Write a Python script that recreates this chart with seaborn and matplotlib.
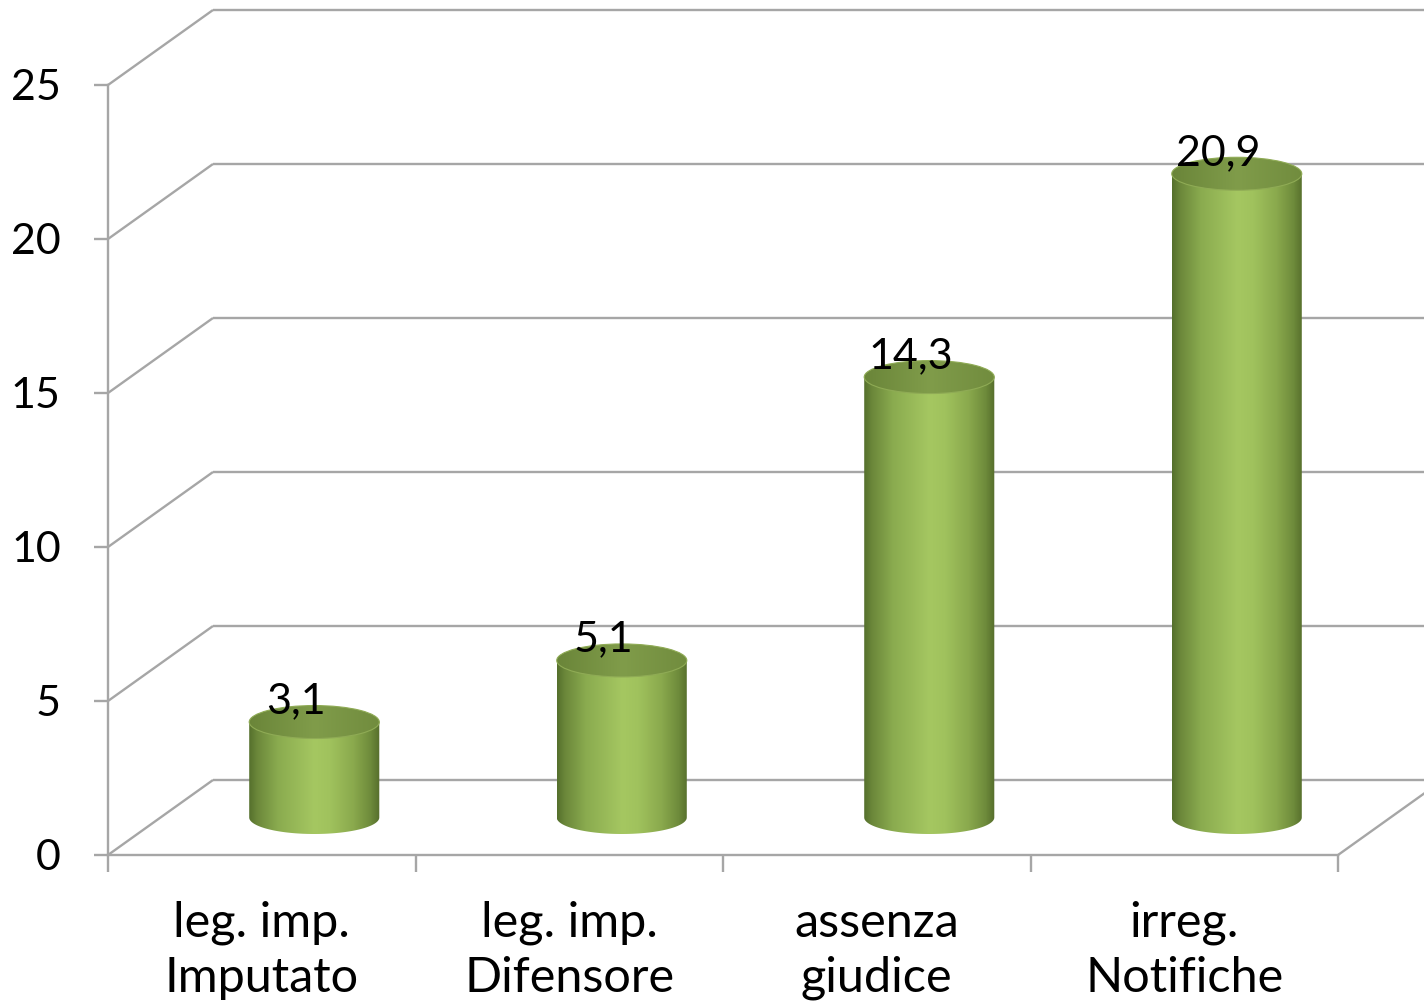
import numpy as np
import pandas as pd
import matplotlib
matplotlib.use("Agg")
import matplotlib.pyplot as plt
from matplotlib.path import Path
from matplotlib.patches import PathPatch, Ellipse
from matplotlib.colors import LinearSegmentedColormap
import seaborn as sns

# ---- data -------------------------------------------------------------
categories = ["leg. imp.\nImputato", "leg. imp.\nDifensore",
              "assenza\ngiudice", "irreg.\nNotifiche"]
values = [3.1, 5.1, 14.3, 20.9]
value_labels = ["3,1", "5,1", "14,3", "20,9"]
y_ticks = [0, 5, 10, 15, 20, 25]

# ---- style ------------------------------------------------------------
sns.set_theme(style="white")
plt.rcParams["font.family"] = ["Lato", "DejaVu Sans"]

GRID = "#a6a6a6"
LW = 1.7
W, H, DPI = 1424, 1001, 100

fig = plt.figure(figsize=(W / DPI, H / DPI), dpi=DPI)
fig.patch.set_facecolor("white")
ax = fig.add_axes([108 / W, (H - 855) / H, (1338 - 108) / W, (855 - 85) / H])

df = pd.DataFrame({"categoria": categories, "valore": values})
sns.barplot(data=df, x="categoria", y="valore", width=0.423,
            color="#9bbb59", saturation=1, ax=ax, zorder=3)
ax.set_xlim(-0.5, 3.5)
ax.set_ylim(0, 25)
ax.set_xlabel("")
ax.set_ylabel("")

# pixel -> data unit conversion for the pseudo-3D depth
bbox = ax.get_window_extent()
ux = bbox.width / 4.0      # pixels per category
uy = bbox.height / 25.0    # pixels per value unit
back_dx, back_dy = 105 / ux, 75 / uy
mid_dx, mid_dy = 52.5 / ux, 37.5 / uy
eh = 16.5 / uy             # half-height of cylinder ellipses

# ---- back wall and side wall gridlines --------------------------------
for v in y_ticks:
    ax.plot([-0.5, -0.5 + back_dx], [v, v + back_dy], color=GRID, lw=LW,
            clip_on=False, zorder=1, solid_capstyle="butt")
    ax.plot([-0.5 + back_dx, 3.5 + back_dx], [v + back_dy, v + back_dy],
            color=GRID, lw=LW, clip_on=False, zorder=1, solid_capstyle="butt")
# floor right edge
ax.plot([3.5, 3.5 + back_dx], [0, back_dy], color=GRID, lw=LW,
        clip_on=False, zorder=1)

# ---- cylinders built on the bar geometry ------------------------------
side_cmap = LinearSegmentedColormap.from_list("side", [
    (0.00, "#55702c"), (0.06, "#6b873a"), (0.22, "#8aab4f"),
    (0.50, "#a5c761"), (0.62, "#a0c25d"), (0.80, "#8aa94d"),
    (0.93, "#6e8b3b"), (1.00, "#566e2c")])
top_cmap = LinearSegmentedColormap.from_list("top", [
    (0.0, "#6a8539"), (0.5, "#809c4a"), (1.0, "#718c3e")])
grad = np.linspace(0, 1, 256).reshape(1, -1)

for bar in ax.patches[:len(values)]:
    x0 = bar.get_x() + mid_dx
    w = bar.get_width()
    v = bar.get_height()
    x1 = x0 + w
    cx = x0 + w / 2
    base = mid_dy
    top = v + mid_dy
    bar.set_visible(False)

    t = np.linspace(np.pi, 2 * np.pi, 80)
    arc = np.column_stack([cx + (w / 2) * np.cos(t), base + eh * np.sin(t)])
    verts = np.vstack([[x0, top], [x0, base], arc, [x1, top], [x0, top]])
    body = PathPatch(Path(verts), facecolor="none", edgecolor="none",
                     transform=ax.transData, clip_on=False)
    ax.add_patch(body)
    im = ax.imshow(grad, cmap=side_cmap, extent=[x0, x1, base - eh, top],
                   aspect="auto", zorder=3, interpolation="bilinear")
    im.set_clip_path(body)

    cap = Ellipse((cx, top), w, 2 * eh, facecolor="none", edgecolor="none",
                  transform=ax.transData, clip_on=False)
    ax.add_patch(cap)
    im2 = ax.imshow(grad, cmap=top_cmap, extent=[x0, x1, top - eh, top + eh],
                    aspect="auto", zorder=4, interpolation="bilinear")
    im2.set_clip_path(cap)
    ax.add_patch(Ellipse((cx, top), w, 2 * eh, facecolor="none",
                         edgecolor="#8fab55", lw=0.8, zorder=5, clip_on=False))

for bar, lab in zip(ax.patches[:len(values)], value_labels):
    cx = bar.get_x() + bar.get_width() / 2
    ax.annotate(lab, (cx, bar.get_height()), xytext=(34.5, 46.5),
                textcoords="offset pixels", ha="center", va="baseline",
                fontsize=31, color="black", zorder=6, annotation_clip=False)

ax.set_xlim(-0.5, 3.5)
ax.set_ylim(0, 25)

# ---- axes ------------------------------------------------------------
for s in ["top", "right"]:
    ax.spines[s].set_visible(False)
for s in ["left", "bottom"]:
    ax.spines[s].set_color(GRID)
    ax.spines[s].set_linewidth(LW)
    ax.spines[s].set_zorder(2)

ax.set_yticks(y_ticks)
ax.set_yticklabels([str(v) for v in y_ticks])
ax.tick_params(axis="y", direction="out", length=10, width=LW, color=GRID,
               pad=24, labelsize=31, labelcolor="black", left=True)
ax.set_xticks(range(len(categories)))
ax.set_xticklabels(categories, linespacing=1.3)
ax.set_xticks([-0.5, 0.5, 1.5, 2.5, 3.5], minor=True)
ax.tick_params(axis="x", which="major", length=0, pad=33, labelsize=35,
               labelcolor="black")
ax.tick_params(axis="x", which="minor", direction="out", length=12,
               width=LW, color=GRID, bottom=True)
ax.grid(False)
ax.set_facecolor("none")

fig.savefig("out.png", dpi=DPI, facecolor="white")
